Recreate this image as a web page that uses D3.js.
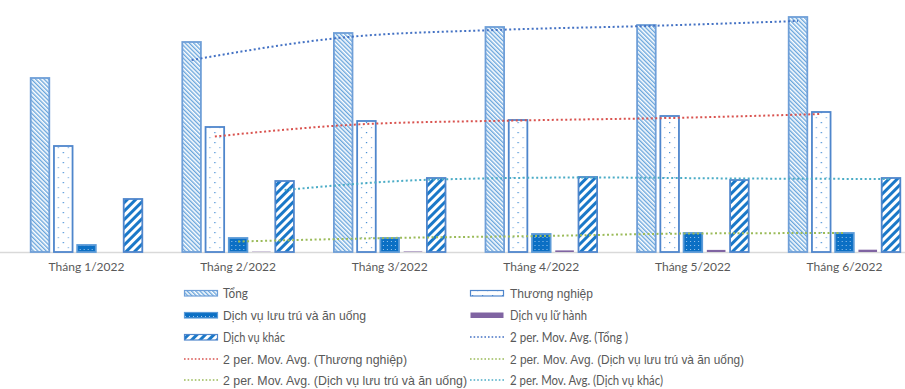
<!DOCTYPE html>
<html>
<head>
<meta charset="utf-8">
<script src="https://cdn.jsdelivr.net/npm/d3@7"></script>
<style>
  html, body { margin: 0; padding: 0; background: #ffffff; }
  svg { display: block; }
</style>
</head>
<body>
<svg id="chart" width="905" height="389"></svg>
<script>
// Monthly values by sector, first half of 2022
const months = ["Tháng 1/2022", "Tháng 2/2022", "Tháng 3/2022", "Tháng 4/2022", "Tháng 5/2022", "Tháng 6/2022"];
const seriesNames = ["Tổng", "Thương nghiệp", "Dịch vụ lưu trú và ăn uống", "Dịch vụ lữ hành", "Dịch vụ khác"];
const tong        = [174, 210, 219, 225, 227, 235];
const thuongNghiep = [106, 125, 131, 132, 136, 140];
const luuTru      = [7, 14, 14, 18, 19, 19];
const luHanh      = [0, 0.3, 0.5, 1.6, 2.1, 2.3];
const dvKhac      = [53, 71, 74, 75, 72, 74];
const seriesValues = [tong, thuongNghiep, luuTru, luHanh, dvKhac];

const svg = d3.select("#chart");
const baseY = 252;

const x0 = d3.scaleBand().domain(months).range([10.7, 920.3]).paddingInner(0).paddingOuter(0);
const x1 = d3.scaleBand().domain(seriesNames).range([0, x0.bandwidth()]).paddingInner(0.2).paddingOuter(0.86);
const y = d3.scaleLinear().domain([0, 252]).range([baseY, 0]);

// Fill patterns
const defs = svg.append("defs");
const pTong = defs.append("pattern").attr("id", "pTong").attr("patternUnits", "userSpaceOnUse")
  .attr("width", 3).attr("height", 3).attr("patternTransform", "rotate(-45)");
pTong.append("rect").attr("width", 3).attr("height", 3).attr("fill", "#ffffff");
pTong.append("rect").attr("width", 1.4).attr("height", 3).attr("fill", "#6aa6dc");

const pTN = defs.append("pattern").attr("id", "pTN").attr("patternUnits", "userSpaceOnUse")
  .attr("width", 10).attr("height", 10);
pTN.append("rect").attr("width", 10).attr("height", 10).attr("fill", "#ffffff");
pTN.append("rect").attr("x", 2).attr("y", 2).attr("width", 1.2).attr("height", 1.2).attr("fill", "#3b87d2");
pTN.append("rect").attr("x", 7).attr("y", 7).attr("width", 1.2).attr("height", 1.2).attr("fill", "#7fb0e3");

const pLT = defs.append("pattern").attr("id", "pLT").attr("patternUnits", "userSpaceOnUse")
  .attr("width", 4).attr("height", 4);
pLT.append("rect").attr("width", 4).attr("height", 4).attr("fill", "#0b6fc4");
pLT.append("rect").attr("x", 1).attr("y", 1).attr("width", 1).attr("height", 1).attr("fill", "#9cc7ee");

const pKhac = defs.append("pattern").attr("id", "pKhac").attr("patternUnits", "userSpaceOnUse")
  .attr("width", 6).attr("height", 6).attr("patternTransform", "rotate(45)");
pKhac.append("rect").attr("width", 6).attr("height", 6).attr("fill", "#ffffff");
pKhac.append("rect").attr("width", 3).attr("height", 6).attr("fill", "#1a78c8");

const fills = ["url(#pTong)", "url(#pTN)", "url(#pLT)", "#8064a2", "url(#pKhac)"];
const strokes = ["#6f9fd8", "#4f86cc", "#5a9ad8", "none", "#4f86cc"];

// Baseline
svg.append("line").attr("x1", 0).attr("x2", 905).attr("y1", baseY + 0.5).attr("y2", baseY + 0.5)
  .attr("stroke", "#d9d9d9").attr("stroke-width", 1.5);

// Bars
const groups = svg.append("g").selectAll("g").data(months).join("g")
  .attr("transform", d => `translate(${x0(d)},0)`);
groups.selectAll("rect")
  .data((m, i) => seriesNames.map((s, k) => ({ s, k, v: seriesValues[k][i] })))
  .join("rect")
  .attr("x", d => x1(d.s))
  .attr("width", x1.bandwidth())
  .attr("y", d => y(d.v))
  .attr("height", d => Math.max(0, baseY - y(d.v)))
  .attr("fill", d => fills[d.k])
  .attr("stroke", d => strokes[d.k])
  .attr("stroke-width", d => d.k === 3 ? 0 : 1.8);

// Category labels
svg.append("g").selectAll("text").data(months).join("text")
  .attr("x", d => x0(d) + x0.bandwidth() / 2)
  .attr("y", 271)
  .attr("text-anchor", "middle")
  .attr("font-family", "Lato, 'Open Sans', sans-serif")
  .attr("font-size", 12)
  .attr("fill", "#595959")
  .text(d => d);

// Two-period moving averages, drawn through each series' bar centres
const movAvg = vals => vals.slice(1).map((v, i) => ({ i: i + 1, v: (vals[i] + v) / 2 }));
const trendSeries = [
  { k: 0, color: "#4472c4" },
  { k: 1, color: "#d9534f" },
  { k: 2, color: "#9bbb59" },
  { k: 4, color: "#4bacc6" }
];
const line = d3.line().curve(d3.curveMonotoneX);
trendSeries.forEach(t => {
  const pts = movAvg(seriesValues[t.k]).map(p => [x0(months[p.i]) + x1(seriesNames[t.k]) + x1.bandwidth() / 2, y(p.v)]);
  svg.append("path").attr("d", line(pts)).attr("fill", "none")
    .attr("stroke", t.color).attr("stroke-width", 2).attr("stroke-dasharray", "2,2.5");
});

// Legend
const legendItems = [
  { col: 0, row: 0, type: "bar", fill: "url(#pTong)", stroke: "#6f9fd8", text: "Tổng", font: "Lato", size: 12.5, len: 25 },
  { col: 1, row: 0, type: "bar", fill: "url(#pTN)", stroke: "#4f86cc", text: "Thương nghiệp", font: "Liberation Sans", size: 13.5, len: 83 },
  { col: 0, row: 1, type: "bar", fill: "url(#pLT)", stroke: "#5a9ad8", text: "Dịch vụ lưu trú và ăn uống", font: "Liberation Sans", size: 13.5, len: 143 },
  { col: 1, row: 1, type: "bar", fill: "#8064a2", stroke: "none", text: "Dịch vụ lữ hành", font: "Lato", size: 12.5, len: 77 },
  { col: 0, row: 2, type: "bar", fill: "url(#pKhac)", stroke: "#4f86cc", text: "Dịch vụ khác", font: "Lato", size: 12.5, len: 62 },
  { col: 1, row: 2, type: "line", color: "#4472c4", text: "2 per. Mov. Avg. (Tổng )", font: "Lato", size: 12.5, len: 118 },
  { col: 0, row: 3, type: "line", color: "#d9534f", text: "2 per. Mov. Avg. (Thương nghiệp)", font: "Liberation Sans", size: 13, len: 184 },
  { col: 1, row: 3, type: "line", color: "#9bbb59", text: "2 per. Mov. Avg. (Dịch vụ lưu trú và ăn uống)", font: "Liberation Sans", size: 13.5, len: 234 },
  { col: 0, row: 4, type: "line", color: "#9bbb59", text: "2 per. Mov. Avg. (Dịch vụ lưu trú và ăn uống)", font: "Liberation Sans", size: 13.5, len: 244 },
  { col: 1, row: 4, type: "line", color: "#4bacc6", text: "2 per. Mov. Avg. (Dịch vụ khác)", font: "Lato", size: 12.5, len: 153 }
];
const colX = [184, 470];
const rowY = [293, 315, 337, 359, 380];
const lg = svg.append("g").selectAll("g").data(legendItems).join("g")
  .attr("transform", d => `translate(${colX[d.col]},${rowY[d.row]})`);
lg.filter(d => d.type === "bar").append("rect")
  .attr("x", 0.5).attr("y", -2.5).attr("width", 33).attr("height", 5.5)
  .attr("fill", d => d.fill).attr("stroke", d => d.stroke).attr("stroke-width", d => d.stroke === "none" ? 0 : 1.2);
lg.filter(d => d.type === "line").append("line")
  .attr("x1", 0).attr("x2", 34).attr("y1", 0).attr("y2", 0)
  .attr("stroke", d => d.color).attr("stroke-width", 1.6).attr("stroke-dasharray", "1.6,2");
lg.append("text")
  .attr("x", d => d.col === 0 ? 39 : 40)
  .attr("y", 0).attr("dy", "0.36em")
  .attr("font-family", d => d.font + ", sans-serif")
  .attr("font-size", d => d.size)
  .attr("fill", "#595959")
  .attr("textLength", d => d.len)
  .attr("lengthAdjust", "spacingAndGlyphs")
  .text(d => d.text);
</script>
</body>
</html>
